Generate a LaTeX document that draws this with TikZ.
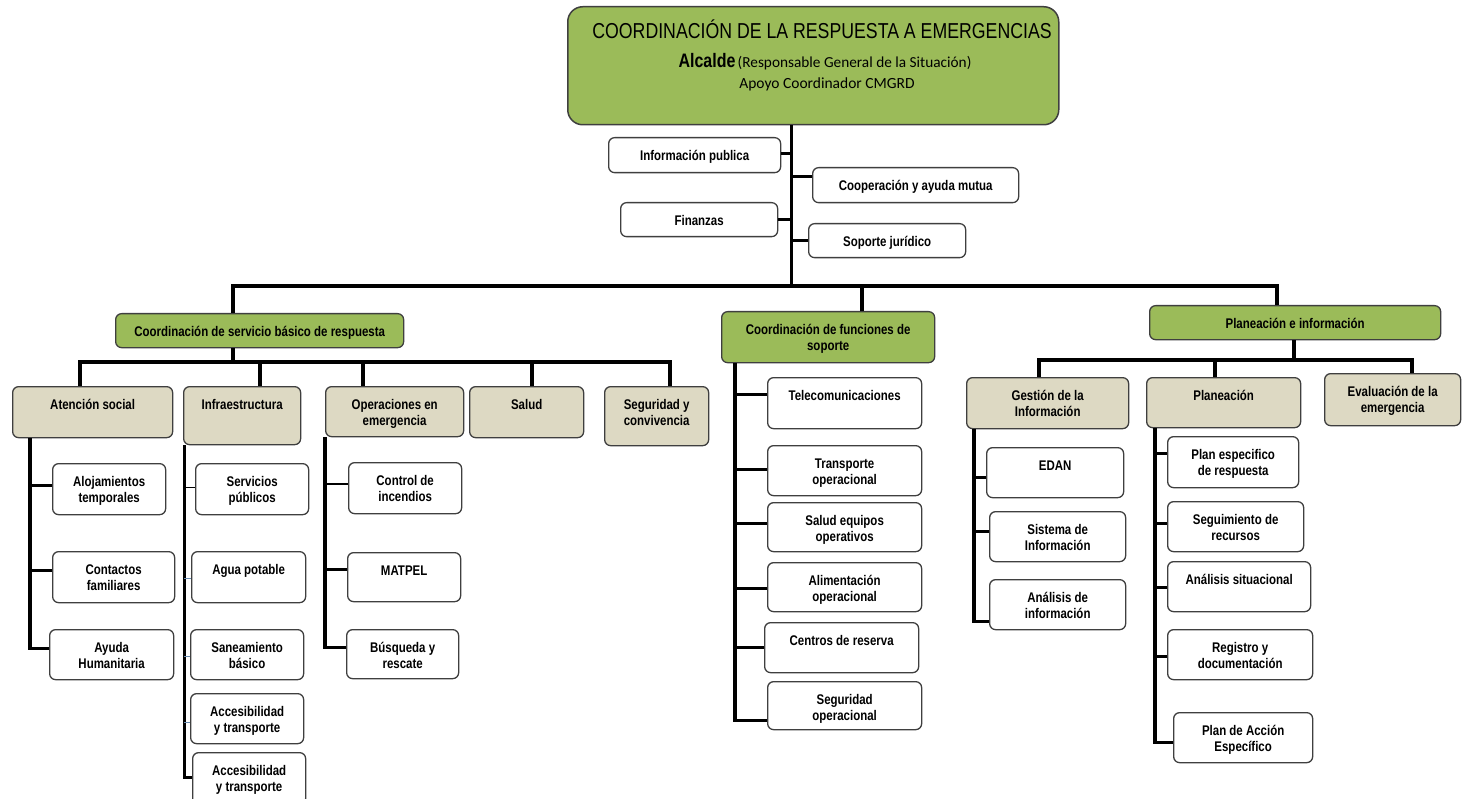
\documentclass[tikz,border=0pt]{standalone}
\usepackage{fontspec}
\setmainfont{Liberation Sans}[FakeStretch=0.82]
\newfontfamily\calib{Carlito}
\definecolor{grn}{HTML}{9BBB59}
\definecolor{tanc}{HTML}{DDD9C3}
\definecolor{brd}{HTML}{3F3F3F}
\definecolor{blu}{HTML}{6A8CB0}
\newcommand{\lbl}{\fontsize{14}{16}\selectfont\bfseries}
\newcommand{\bxt}[3]{\parbox[c][#2pt][t]{#1pt}{\centering\rule{0pt}{23pt}#3\par}}
% horizontal connector from a child's west (or east) side to a vertical line
\newcommand{\hc}[4][conn]{\path ([yshift=#4]#2.west) coordinate (#2-c); \draw[#1] (#2-c) -- (#2-c -| #3);}
\newcommand{\hce}[4][conn]{\path ([yshift=#4]#2.east) coordinate (#2-c); \draw[#1] (#2-c) -- (#2-c -| #3);}
\tikzset{
  box/.style={draw=brd, line width=1.3pt, rounded corners=6pt, inner sep=0pt, anchor=north west, fill=white, font=\lbl},
  gbox/.style={box, fill=grn},
  tbox/.style={box, fill=tanc},
  conn/.style={line width=3.5pt, black},
  thinconn/.style={line width=1.3pt, black},
  midconn/.style={line width=2.2pt, black},
  bluconn/.style={line width=1pt, blu},
}
\begin{document}
\begin{tikzpicture}[x=1pt,y=-1pt]
\useasboundingbox (0,0) rectangle (1463,799);
\fill[white] (0,0) rectangle (1463,799);
\clip (0,0) rectangle (1463,799);

% ---------- top box ----------
\node[box, fill=grn, rounded corners=15pt, line width=1.5pt, minimum width=491pt, minimum height=118pt] (top) at (567,6) {};
\node[anchor=base, font=\fontsize{21.6}{24}\selectfont] (t1) at (822,39) {COORDINACIÓN DE LA RESPUESTA A EMERGENCIAS};
\node[anchor=base] (t2) at (825,68) {{\fontsize{19.5}{22}\selectfont\bfseries Alcalde} {\calib\fontsize{15.3}{18}\selectfont(Responsable General de la Situación)}};
\node[anchor=base, font=\calib\fontsize{15.5}{18}\selectfont] (t3) at (827,89) {Apoyo Coordinador CMGRD};

% ---------- staff boxes ----------
\node[box] (ip) at (608,137) {\bxt{172}{35}{Información publica}};
\node[box] (coop) at (812,167) {\bxt{206}{35}{Cooperación y ayuda mutua}};
\node[box] (fin) at (620,202) {\bxt{157}{34}{Finanzas}};
\node[box] (sj) at (808,223) {\bxt{157}{34}{Soporte jurídico}};

% ---------- level 1 ----------
\node[gbox] (c1) at (115,313) {\bxt{288}{34}{Coordinación de servicio básico de respuesta}};
\node[gbox] (c2) at (721,311) {\bxt{213}{51}{Coordinación de funciones de\\soporte}};
\node[gbox] (c3) at (1149,305) {\bxt{291}{34}{Planeación e información}};

% ---------- level 2 left ----------
\node[tbox] (as) at (12,386) {\bxt{160}{51}{Atención social}};
\node[tbox] (is) at (183,386) {\bxt{117}{58}{Infraestructura}};
\node[tbox] (oe) at (325,386) {\bxt{138}{50}{Operaciones en\\emergencia}};
\node[tbox] (sa) at (469,386) {\bxt{114}{51}{Salud}};
\node[tbox] (sc) at (604,386) {\bxt{104}{59}{Seguridad y\\convivencia}};

% ---------- level 2 right ----------
\node[tbox] (gi) at (966,377) {\bxt{162}{51}{Gestión de la\\Información}};
\node[tbox] (pl) at (1146,377) {\bxt{154}{50}{Planeación}};
\node[tbox] (ev) at (1324,373) {\bxt{136}{52}{Evaluación de la\\emergencia}};

% ---------- Atención social children ----------
\node[box] (aj) at (52,463) {\bxt{113}{51}{Alojamientos\\temporales}};
\node[box] (cf) at (52,551) {\bxt{122}{51}{Contactos\\familiares}};
\node[box] (ah) at (49,629) {\bxt{124}{50}{Ayuda\\Humanitaria}};

% ---------- Infraestructura children ----------
\node[box] (sp) at (195,463) {\bxt{113}{51}{Servicios\\públicos}};
\node[box] (ap) at (191,551) {\bxt{114}{51}{Agua potable}};
\node[box] (sb) at (190,629) {\bxt{113}{50}{Saneamiento\\básico}};
\node[box] (ac1) at (190,693) {\bxt{113}{50}{Accesibilidad\\y transporte}};
\node[box] (ac2) at (192,752) {\bxt{113}{52}{Accesibilidad\\y transporte}};

% ---------- Operaciones children ----------
\node[box] (ci) at (348,462) {\bxt{113}{51}{Control de\\incendios}};
\node[box] (mp) at (347,552) {\bxt{113}{49}{MATPEL}};
\node[box] (br) at (346,629) {\bxt{112}{49}{Búsqueda y\\rescate}};

% ---------- soporte children ----------
\node[box] (tc) at (767,377) {\bxt{154}{51}{Telecomunicaciones}};
\node[box] (to) at (767,445) {\bxt{154}{50}{Transporte\\operacional}};
\node[box] (se) at (767,502) {\bxt{154}{49}{Salud equipos\\operativos}};
\node[box] (al) at (767,562) {\bxt{154}{49}{Alimentación\\operacional}};
\node[box] (cr) at (764,622) {\bxt{154}{50}{Centros de reserva}};
\node[box] (so) at (767,681) {\bxt{154}{48}{Seguridad\\operacional}};

% ---------- Gestión children ----------
\node[box] (ed) at (986,447) {\bxt{137}{50}{EDAN}};
\node[box] (si) at (989,511) {\bxt{136}{50}{Sistema de\\Información}};
\node[box] (an) at (989,579) {\bxt{136}{50}{Análisis de\\información}};

% ---------- Planeación children ----------
\node[box] (pe) at (1167,436) {\bxt{131}{51}{Plan especifico\\de respuesta}};
\node[box] (sr) at (1167,501) {\bxt{136}{50}{Seguimiento de\\recursos}};
\node[box] (asi) at (1167,561) {\bxt{143}{50}{Análisis situacional}};
\node[box] (rd) at (1167,629) {\bxt{145}{50}{Registro y\\documentación}};
\node[box] (pa) at (1173,712) {\bxt{139}{50}{Plan de Acción\\Específico}};

% ================= connectors =================
\coordinate (hub) at (791,286);
\draw[conn, line width=3pt] (top.south -| hub) -- (hub);
\hce[conn, line width=3pt]{ip}{hub}{2pt}
\hc[conn, line width=3pt]{coop}{hub}{9pt}
\hce[conn, line width=3pt]{fin}{hub}{0pt}
\hc[conn, line width=3pt]{sj}{hub}{0pt}

\coordinate (hL) at (233,286);
\coordinate (hM) at (862,286);
\coordinate (hR) at (1277,286);
\draw[conn] ([xshift=-1.75pt]hL) -- ([xshift=1.75pt]hR);
\draw[conn] (hL) -- (hL |- c1.north);
\draw[conn] (hM) -- (hM |- c2.north);
\draw[conn] (hR) -- (hR |- c3.north);

% left coordinator hub
\coordinate (l0) at (233,362);
\coordinate (la) at (80,362);
\coordinate (lb) at (260,362);
\coordinate (lc) at (363,362);
\coordinate (ld) at (532,362);
\coordinate (le) at (670,362);
\draw[conn] (c1.south -| l0) -- (l0);
\draw[conn] ([xshift=-1.75pt]la) -- ([xshift=1.75pt]le);
\draw[conn] (la) -- (la |- as.north);
\draw[conn] (lb) -- (lb |- is.north);
\draw[conn] (lc) -- (lc |- oe.north);
\draw[conn] (ld) -- (ld |- sa.north);
\draw[conn] (le) -- (le |- sc.north);

% right coordinator hub
\coordinate (r0) at (1294,360);
\coordinate (ra) at (1039,360);
\coordinate (rb) at (1215,360);
\coordinate (rc) at (1412,360);
\draw[conn] (c3.south -| r0) -- (r0);
\draw[conn] ([xshift=-1.75pt]ra) -- ([xshift=1.75pt]rc);
\draw[conn] (ra) -- (ra |- gi.north);
\draw[conn] (rb) -- (rb |- pl.north);
\draw[conn] (rc) -- (rc |- ev.north);

% Atención social
\coordinate (av) at (30,0);
\draw[conn] (as.south -| av) |- ([yshift=6pt]ah.west);
\hc{aj}{av}{3.5pt}
\hc{cf}{av}{6.5pt}

% Infraestructura
\coordinate (iv) at (184,0);
\draw[conn, line width=3pt] (is.south -| iv) |- ([yshift=1pt]ac2.west);
\hc[thinconn]{sp}{iv}{1.5pt}
\hc[bluconn]{ap}{iv}{-1.5pt}
\hc[bluconn]{sb}{iv}{-2pt}
\hc[bluconn]{ac1}{iv}{-4pt}

% Operaciones
\coordinate (ov) at (325,0);
\draw[conn] (oe.south -| ov) |- ([yshift=6.5pt]br.west);
\hc[midconn]{ci}{ov}{4.5pt}
\hc[conn, line width=3pt]{mp}{ov}{7.5pt}

% soporte
\coordinate (mv) at (735,0);
\draw[conn] (c2.south -| mv) |- ([yshift=-15pt]so.west);
\hc[conn, line width=3pt]{tc}{mv}{8.5pt}
\hc[conn, line width=2.5pt]{to}{mv}{1pt}
\hc[conn, line width=2.5pt]{se}{mv}{3.5pt}
\hc[conn, line width=2.5pt]{al}{mv}{-1.5pt}
\hc[conn, line width=2.5pt]{cr}{mv}{0pt}

% Gestión
\coordinate (gv) at (974,0);
\draw[conn] (gi.south -| gv) |- ([yshift=-17pt]an.west);
\hc[conn, line width=3pt]{ed}{gv}{-5pt}
\hc[conn, line width=3pt]{si}{gv}{5pt}

% Planeación
\coordinate (pv) at (1155,0);
\draw[conn] (pl.south -| pv) |- ([yshift=-5pt]pa.west);
\hc{pe}{pv}{8.5pt}
\hc[conn, line width=3pt]{sr}{pv}{3pt}
\hc[conn, line width=3pt]{asi}{pv}{-1pt}
\hc[conn, line width=3pt]{rd}{pv}{-2pt}
\end{tikzpicture}
\end{document}
